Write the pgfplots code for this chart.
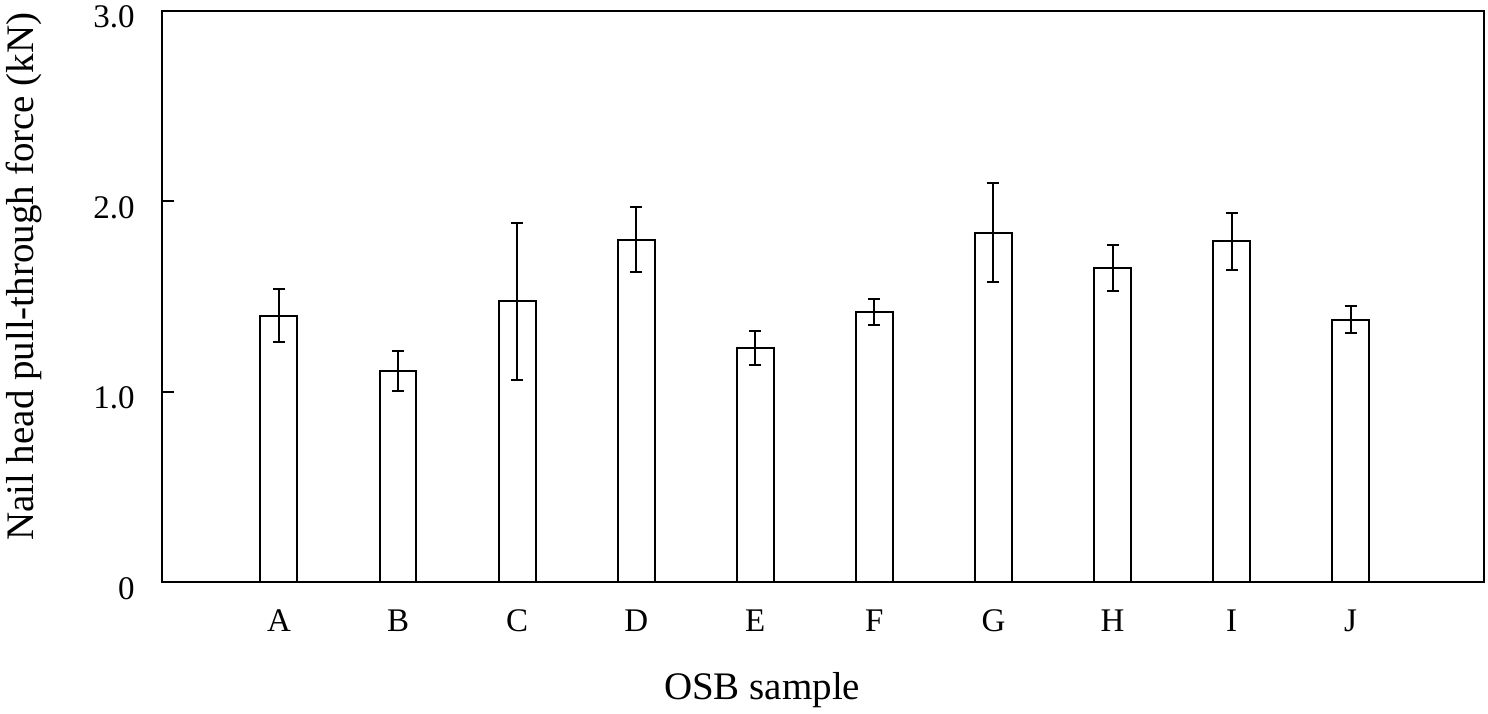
\documentclass[border=0pt]{standalone}
\usepackage{fontspec}
\setmainfont{Liberation Serif}
\usepackage{pgfplots}
\pgfplotsset{compat=1.18}
\begin{document}
\begin{tikzpicture}
\fontsize{16.5}{20}\selectfont
\begin{axis}[
  scale only axis,
  width=661pt, height=285.75pt,
  xmin=0.0175, xmax=11.12,
  ymin=0, ymax=3,
  ytick={0,1,2,3},
  yticklabels={0,1.0,2.0,3.0},
  xtick={1,2,3,4,5,6,7,8,9,10},
  xticklabels={A,B,C,D,E,F,G,H,I,J},
  major x tick style={draw=none},
  ytick pos=left,
  tick align=inside,
  major tick length=6pt,
  axis line style={line width=1pt},
  major tick style={line width=1pt, black},
  yticklabel style={font=\fontsize{16.5}{20}\selectfont, xshift=-8pt, yshift=-3pt},
  xticklabel style={font=\fontsize{16.5}{20}\selectfont, yshift=-8pt},
  /pgf/number format/assume math mode=true,
  xlabel style={at={(axis description cs:0.454,-0.189)}, anchor=center, font=\fontsize{19.5}{23}\selectfont},
  ylabel style={at={(axis description cs:-0.104,0.535)}, anchor=center, font=\fontsize{19.5}{23}\selectfont},
  xlabel={OSB sample},
  ylabel={Nail head pull-through force (kN)},
  clip=false,
]
\addplot[ybar, bar width=0.31, fill=white, draw=black, line width=1pt,
  error bars/.cd, y dir=both, y explicit,
  error bar style={line width=1pt, black},
  error mark options={rotate=90, mark size=3pt, line width=1pt, black}]
  coordinates {
  (1,1.40) +- (0,0.14)
  (2,1.11) +- (0,0.107)
  (3,1.475) +- (0,0.41)
  (4,1.80) +- (0,0.17)
  (5,1.23) +- (0,0.09)
  (6,1.42) +- (0,0.07)
  (7,1.835) +- (0,0.26)
  (8,1.65) +- (0,0.12)
  (9,1.79) +- (0,0.152)
  (10,1.38) +- (0,0.07)
  };
\coordinate (bl) at (axis description cs:-0.1225,-0.230);
\coordinate (tr) at (axis description cs:1.003,1.0192);
\end{axis}
\pgfresetboundingbox
\path[use as bounding box] (bl) rectangle (tr);
\end{tikzpicture}
\end{document}
